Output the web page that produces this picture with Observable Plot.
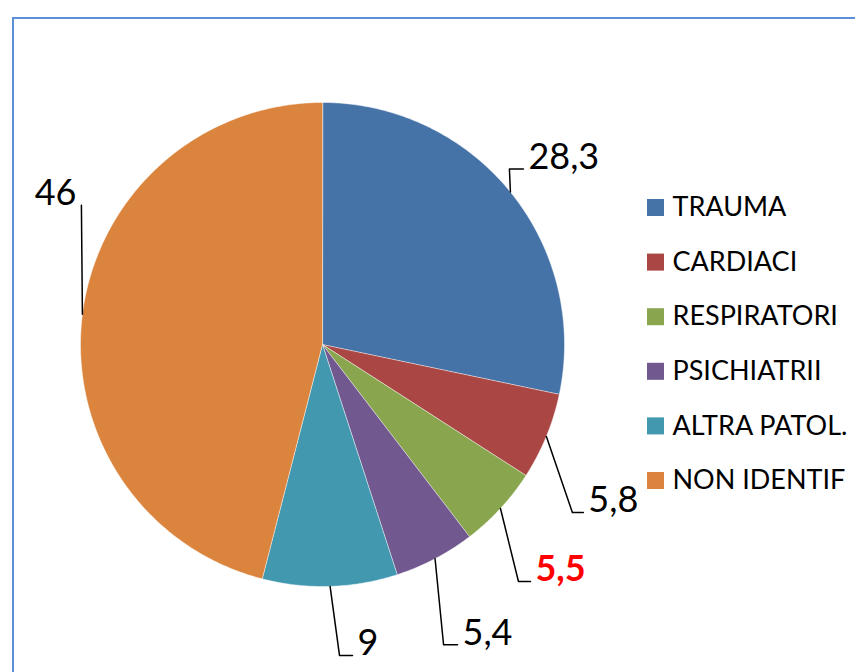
<!DOCTYPE html>
<html><head><meta charset="utf-8">
<script src="https://cdn.jsdelivr.net/npm/d3@7"></script>
<script src="https://cdn.jsdelivr.net/npm/@observablehq/plot@0.6"></script>
<style>
body{margin:0;background:#fff;}
#wrap{position:relative;width:855px;height:672px;overflow:hidden;}
#frame{position:absolute;left:12px;top:17px;width:900px;height:700px;border:2px solid #5b8fd8;box-sizing:border-box;pointer-events:none;}
</style></head><body>
<div id="wrap"><div id="chart"></div><div id="frame"></div></div>
<script>
// ---- data ----
const categories = ["TRAUMA","CARDIACI","RESPIRATORI","PSICHIATRII","ALTRA PATOL.","NON IDENTIF"];
const values = [28.3, 5.8, 5.5, 5.4, 9, 46];
const valueLabels = ["28,3","5,8","5,5","5,4","9","46"];
const highlighted = ["RESPIRATORI"];

// ---- style / layout ----
const colors = ["#4572a7","#aa4643","#89a54e","#71588f","#4198af","#db843d"];
const W = 855, H = 672, CX = 322, CY = 344, R = 242;
// leader elbow / end offsets (px) from the slice edge point, and text side
const leaderOffsets = [
  {ex:-1, ey:-23, hx:14, anchor:"start"},
  {ex:26, ey:76, hx:11, anchor:"start"},
  {ex:18, ey:73, hx:12, anchor:"start"},
  {ex:8.5, ey:86, hx:14, anchor:"start"},
  {ex:9.4, ey:69, hx:13, anchor:"start"},
  {ex:-1, ey:-109, hx:0, anchor:"end"}
];
const legendLeft = 655, legendTop = 207, legendStep = 54.6, legendTextGap = 17;

const u = px => px / R; // pixel length -> unit length

// pie geometry from values
const arcs = d3.pie().sort(null).value(d => d)(values);
const slicePts = [];
arcs.forEach((a, i) => {
  const name = categories[i];
  slicePts.push({name, x: 0, y: 0});
  const n = Math.max(8, Math.ceil((a.endAngle - a.startAngle) / 0.01));
  for (let k = 0; k <= n; k++) {
    const t = a.startAngle + (a.endAngle - a.startAngle) * k / n;
    slicePts.push({name, x: Math.sin(t), y: Math.cos(t)});
  }
});

const leaderPts = [];
const labelRows = [];
arcs.forEach((a, i) => {
  const m = (a.startAngle + a.endAngle) / 2;
  const sx = Math.sin(m), sy = Math.cos(m);
  const o = leaderOffsets[i];
  const exx = sx + u(o.ex), eyy = sy - u(o.ey);
  const hx = exx + (o.anchor === "start" ? u(o.hx) : -u(o.hx));
  leaderPts.push({k: i, x: sx, y: sy}, {k: i, x: exx, y: eyy}, {k: i, x: hx, y: eyy});
  labelRows.push({name: categories[i], label: valueLabels[i], x: hx, y: eyy, anchor: o.anchor});
});

const legendRows = categories.map((name, i) => ({
  name, x: u(legendLeft - CX), y: u(CY - (legendTop + i * legendStep))
}));

const chart = Plot.plot({
  width: W, height: H,
  margin: 0,
  style: {fontFamily: "Lato, 'Open Sans', sans-serif", background: "transparent", overflow: "visible"},
  x: {domain: [-1, 1], range: [CX - R, CX + R], axis: null},
  y: {domain: [-1, 1], range: [CY + R, CY - R], axis: null},
  color: {type: "ordinal", domain: categories, range: colors},
  marks: [
    Plot.line(slicePts, {x: "x", y: "y", z: "name", fill: "name", stroke: "#ffffff", strokeWidth: 0.8, strokeOpacity: 0.6, curve: "linear-closed"}),
    Plot.line(leaderPts, {x: "x", y: "y", z: "k", stroke: "#000", strokeWidth: 1.5, curve: "linear"}),
    Plot.text(labelRows.filter(d => !highlighted.includes(d.name) && d.anchor === "start"), {x: "x", y: "y", text: "label", textAnchor: "start", lineAnchor: "bottom", dx: 5, fontSize: 36, fill: "#000"}),
    Plot.text(labelRows.filter(d => !highlighted.includes(d.name) && d.anchor === "end"), {x: "x", y: "y", text: "label", textAnchor: "end", lineAnchor: "bottom", dx: -5, fontSize: 36, fill: "#000"}),
    Plot.text(labelRows.filter(d => highlighted.includes(d.name)), {x: "x", y: "y", text: "label", textAnchor: "start", lineAnchor: "bottom", dx: 5, fontSize: 36, fontWeight: "bold", fill: "#ff0000"}),
    Plot.dot(legendRows, {x: "x", y: "y", symbol: "square", r: 9.6, fill: "name", stroke: null}),
    Plot.text(legendRows, {x: "x", y: "y", text: "name", textAnchor: "start", lineAnchor: "middle", dx: legendTextGap, fontSize: 27, fill: "#000"})
  ]
});
document.getElementById("chart").appendChild(chart);
</script>
</body></html>
